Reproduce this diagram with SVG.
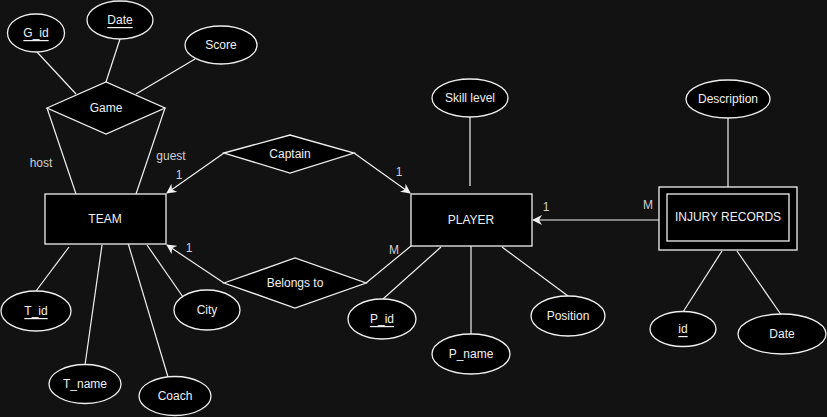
<svg xmlns="http://www.w3.org/2000/svg" width="827" height="417" viewBox="0 0 827 417">
<defs>
<style>
.bg{fill:#121212}
.sh{fill:#000;stroke:#f0f0f0;stroke-width:1.3}
.ln{fill:none;stroke:#f0f0f0;stroke-width:1.2}
.t{font-family:"Liberation Sans",Arial,sans-serif;font-size:12px;fill:#f0f0f0;text-anchor:middle;dominant-baseline:central}
.lb{font-family:"Liberation Sans",Arial,sans-serif;font-size:12px;fill:#d0d0d0;text-anchor:middle;dominant-baseline:central}
.u{text-decoration:underline}
</style>
<marker id="arr" viewBox="0 0 10 10" refX="9" refY="5" markerWidth="10" markerHeight="10" markerUnits="userSpaceOnUse" orient="auto">
<path d="M0,0 L10,5 L0,10 L3,5 Z" fill="#f0f0f0"/>
</marker>
</defs>
<rect class="bg" x="0" y="0" width="827" height="417"/>
<g id="connectors">
<line class="ln" x1="37" y1="52" x2="76" y2="94"/>
<line class="ln" x1="120" y1="39" x2="106" y2="82"/>
<line class="ln" x1="195" y1="59" x2="136" y2="94"/>
<line class="ln" x1="47" y1="108" x2="76" y2="194"/>
<line class="ln" x1="165" y1="108" x2="136" y2="194"/>
<line class="ln" x1="224" y1="153" x2="167" y2="193" marker-end="url(#arr)"/>
<line class="ln" x1="354" y1="153" x2="410" y2="193" marker-end="url(#arr)"/>
<line class="ln" x1="224" y1="283" x2="167" y2="245" marker-end="url(#arr)"/>
<line class="ln" x1="366" y1="283" x2="411" y2="246"/>
<line class="ln" x1="69" y1="247" x2="36" y2="291"/>
<line class="ln" x1="102" y1="245" x2="85" y2="365"/>
<line class="ln" x1="128" y1="243" x2="168" y2="377"/>
<line class="ln" x1="147" y1="245" x2="183" y2="297"/>
<line class="ln" x1="441" y1="247" x2="383" y2="299"/>
<line class="ln" x1="471" y1="246" x2="471" y2="335"/>
<line class="ln" x1="502" y1="247" x2="568" y2="296"/>
<line class="ln" x1="470" y1="117" x2="470" y2="186"/>
<line class="ln" x1="728" y1="118" x2="728" y2="187"/>
<line class="ln" x1="659" y1="220" x2="533" y2="220" marker-end="url(#arr)"/>
<line class="ln" x1="722" y1="251" x2="683" y2="312"/>
<line class="ln" x1="737" y1="251" x2="782" y2="316"/>
<text class="lb" x="41" y="163">host</text>
<text class="lb" x="171" y="156">guest</text>
<text class="lb" x="179" y="175">1</text>
<text class="lb" x="399" y="172">1</text>
<text class="lb" x="189" y="248">1</text>
<text class="lb" x="394" y="250">M</text>
<text class="lb" x="546" y="207">1</text>
<text class="lb" x="648" y="205">M</text>
</g>
<g id="game"><polygon class="sh" points="47,108 106,82 165,108 106,134"/><text class="t" x="106" y="108">Game</text></g>
<g id="g_id"><ellipse class="sh" cx="36" cy="33" rx="28.5" ry="19"/><text class="t u" x="36" y="33">G_id</text></g>
<g id="game_date"><ellipse class="sh" cx="120" cy="20" rx="33" ry="19"/><text class="t u" x="120" y="20">Date</text></g>
<g id="score"><ellipse class="sh" cx="221" cy="45" rx="36" ry="19"/><text class="t" x="221" y="45">Score</text></g>
<g id="team"><rect class="sh" x="45" y="194" width="121" height="50"/><text class="t" x="105" y="219">TEAM</text></g>
<g id="captain"><polygon class="sh" points="224,153 290,135 354,153 290,173"/><text class="t" x="290" y="154">Captain</text></g>
<g id="belongs"><polygon class="sh" points="224,283 295,258 366,283 295,308"/><text class="t" x="295" y="283">Belongs to</text></g>
<g id="player"><rect class="sh" x="411" y="194" width="121" height="52"/><text class="t" x="471" y="220">PLAYER</text></g>
<g id="t_id"><ellipse class="sh" cx="36" cy="311" rx="35" ry="20"/><text class="t u" x="36" y="311">T_id</text></g>
<g id="t_name"><ellipse class="sh" cx="85" cy="384" rx="36" ry="19.5"/><text class="t" x="85" y="384">T_name</text></g>
<g id="coach"><ellipse class="sh" cx="175" cy="396" rx="36" ry="19.5"/><text class="t" x="175" y="396">Coach</text></g>
<g id="city"><ellipse class="sh" cx="207" cy="310" rx="33" ry="20"/><text class="t" x="207" y="310">City</text></g>
<g id="p_id"><ellipse class="sh" cx="382" cy="319" rx="34" ry="20"/><text class="t u" x="382" y="319">P_id</text></g>
<g id="p_name"><ellipse class="sh" cx="471" cy="354" rx="39" ry="20"/><text class="t" x="471" y="354">P_name</text></g>
<g id="position"><ellipse class="sh" cx="568" cy="316" rx="37" ry="20"/><text class="t" x="568" y="316">Position</text></g>
<g id="skill"><ellipse class="sh" cx="470" cy="98" rx="38" ry="19"/><text class="t" x="470" y="98">Skill level</text></g>
<g id="injury"><rect class="sh" x="659" y="187" width="138" height="63"/><rect class="sh" x="667" y="194" width="122" height="47"/><text class="t" x="728" y="217">INJURY RECORDS</text></g>
<g id="description"><ellipse class="sh" cx="728" cy="99" rx="42" ry="19"/><text class="t" x="728" y="99">Description</text></g>
<g id="inj_id"><ellipse class="sh" cx="683" cy="329" rx="33" ry="17.5"/><text class="t u" x="683" y="329">id</text></g>
<g id="inj_date"><ellipse class="sh" cx="782" cy="334" rx="44" ry="20"/><text class="t" x="782" y="334">Date</text></g>
</svg>
